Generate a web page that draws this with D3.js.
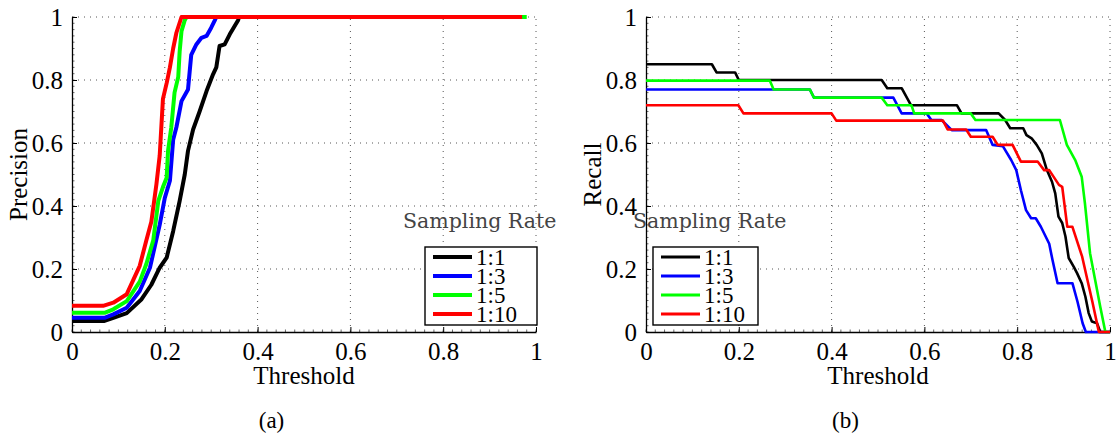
<!DOCTYPE html>
<html><head><meta charset="utf-8">
<script src="https://cdn.jsdelivr.net/npm/d3@7"></script>
<style>html,body{margin:0;padding:0;background:#fff;}svg{display:block;}
.serif{font-family:"Liberation Serif","Times New Roman",Times,serif;}
.dserif{font-family:"DejaVu Serif",serif;}
</style>
</head><body>
<svg id="chart" width="1120" height="439"></svg>
<script>
// ---- data ----
const seriesNames = ["1:1", "1:3", "1:5", "1:10"];
const seriesColors = ["#000000", "#0000ff", "#00ff00", "#ff0000"];
const xTicks = [0, 0.2, 0.4, 0.6, 0.8, 1];
const yTicks = [0, 0.2, 0.4, 0.6, 0.8, 1];
const xTickLabels = ["0", "0.2", "0.4", "0.6", "0.8", "1"];
const yTickLabels = ["0", "0.2", "0.4", "0.6", "0.8", "1"];

// (a) Precision vs threshold
const precision_1_1 = [[0,0.035],[0.07,0.035],[0.089,0.045],[0.118,0.06],[0.15,0.104],[0.171,0.15],[0.189,0.204],[0.204,0.236],[0.218,0.32],[0.232,0.416],[0.243,0.5],[0.25,0.575],[0.261,0.643],[0.275,0.70],[0.29,0.765],[0.304,0.818],[0.311,0.84],[0.318,0.908],[0.329,0.913],[0.34,0.945],[0.358,0.99],[0.36,1],[0.97,1]];
const precision_1_3 = [[0,0.045],[0.07,0.045],[0.089,0.056],[0.118,0.077],[0.146,0.13],[0.168,0.204],[0.189,0.34],[0.2,0.426],[0.211,0.48],[0.218,0.61],[0.225,0.65],[0.236,0.733],[0.25,0.77],[0.257,0.88],[0.268,0.913],[0.279,0.934],[0.29,0.94],[0.3,0.966],[0.308,0.99],[0.311,1],[0.97,1]];
const precision_1_5 = [[0,0.061],[0.07,0.061],[0.089,0.072],[0.118,0.098],[0.146,0.16],[0.16,0.215],[0.175,0.29],[0.186,0.416],[0.196,0.46],[0.204,0.49],[0.207,0.575],[0.214,0.65],[0.221,0.76],[0.229,0.81],[0.232,0.89],[0.236,0.955],[0.243,0.99],[0.247,1],[0.98,1]];
const precision_1_10 = [[0,0.083],[0.067,0.083],[0.089,0.093],[0.118,0.12],[0.146,0.21],[0.16,0.29],[0.171,0.35],[0.182,0.47],[0.189,0.56],[0.196,0.74],[0.204,0.79],[0.211,0.84],[0.218,0.90],[0.225,0.95],[0.236,1],[0.97,1]];

// (b) Recall vs threshold
const recall_1_1 = [[0,0.85],[0.142,0.85],[0.152,0.824],[0.192,0.824],[0.2,0.80],[0.508,0.80],[0.52,0.774],[0.551,0.774],[0.571,0.72],[0.67,0.72],[0.68,0.694],[0.76,0.694],[0.774,0.673],[0.785,0.647],[0.813,0.647],[0.82,0.625],[0.831,0.615],[0.842,0.594],[0.853,0.567],[0.864,0.514],[0.875,0.477],[0.882,0.44],[0.889,0.366],[0.897,0.346],[0.904,0.303],[0.911,0.235],[0.922,0.207],[0.929,0.187],[0.939,0.155],[0.947,0.112],[0.954,0.06],[0.961,0.033],[0.972,0.028],[0.979,0],[1,0]];
const recall_1_3 = [[0,0.77],[0.353,0.77],[0.362,0.744],[0.533,0.744],[0.551,0.694],[0.605,0.694],[0.615,0.673],[0.637,0.673],[0.659,0.641],[0.733,0.641],[0.747,0.594],[0.769,0.59],[0.787,0.546],[0.798,0.514],[0.808,0.45],[0.819,0.387],[0.83,0.361],[0.84,0.361],[0.851,0.334],[0.869,0.28],[0.876,0.229],[0.887,0.155],[0.919,0.155],[0.93,0.096],[0.941,0.028],[0.948,0],[1,0]];
const recall_1_5 = [[0,0.798],[0.267,0.798],[0.275,0.77],[0.353,0.77],[0.362,0.744],[0.508,0.744],[0.52,0.72],[0.572,0.72],[0.578,0.694],[0.70,0.694],[0.71,0.673],[0.892,0.673],[0.907,0.594],[0.925,0.546],[0.939,0.493],[0.946,0.408],[0.957,0.25],[0.968,0.165],[0.979,0.08],[0.99,0],[1,0]];
const recall_1_10 = [[0,0.72],[0.199,0.72],[0.21,0.694],[0.4,0.694],[0.41,0.671],[0.64,0.671],[0.65,0.643],[0.69,0.643],[0.70,0.62],[0.747,0.62],[0.758,0.594],[0.79,0.594],[0.808,0.541],[0.844,0.541],[0.858,0.514],[0.869,0.514],[0.89,0.467],[0.897,0.461],[0.908,0.334],[0.919,0.334],[0.94,0.239],[0.962,0.096],[0.976,0],[1,0]];

// ---- drawing ----
const svg = d3.select("#chart");

function panel(opts) {
  const x = d3.scaleLinear().domain([0, 1]).range([opts.x0, opts.x0 + 464]);
  const y = d3.scaleLinear().domain([0, 1]).range([332, 17]);
  const g = svg.append("g");

  // dotted grid
  const grid = g.append("g");
  xTicks.filter(d => d > 0).forEach(t => {
    grid.append("line").attr("x1", x(t)).attr("x2", x(t)).attr("y1", y(0)).attr("y2", y(1))
      .attr("stroke", "#555").attr("stroke-width", 1).attr("stroke-dasharray", "1,5");
  });
  yTicks.filter(d => d > 0).forEach(t => {
    grid.append("line").attr("x1", x(0)).attr("x2", x(1)).attr("y1", y(t)).attr("y2", y(t))
      .attr("stroke", "#555").attr("stroke-width", 1).attr("stroke-dasharray", "1,5");
  });

  // minor ticks
  const minor = d3.range(0, 1.0001, 0.02);
  minor.forEach(t => {
    g.append("line").attr("x1", x(t)).attr("x2", x(t)).attr("y1", y(0)).attr("y2", y(0) - 2.5)
      .attr("stroke", "#444").attr("stroke-width", 0.8);
    g.append("line").attr("x1", x(0)).attr("x2", x(0) + 2.5).attr("y1", y(t)).attr("y2", y(t))
      .attr("stroke", "#444").attr("stroke-width", 0.8);
  });

  // axes via d3
  const xAxis = d3.axisBottom(x).tickValues(xTicks).tickFormat((d, i) => xTickLabels[i]).tickSizeInner(-5).tickSizeOuter(0).tickPadding(10);
  const yAxis = d3.axisLeft(y).tickValues(yTicks).tickFormat((d, i) => yTickLabels[i]).tickSizeInner(-5).tickSizeOuter(0).tickPadding(9);
  const gx = g.append("g").attr("transform", `translate(0,${y(0)})`).call(xAxis);
  const gy = g.append("g").attr("transform", `translate(${x(0)},0)`).call(yAxis);
  [gx, gy].forEach(a => {
    a.attr("font-family", null).attr("font-size", null);
    a.select(".domain").attr("stroke", "#000").attr("stroke-width", 1.3);
    a.selectAll(".tick line").attr("stroke", "#000").attr("stroke-width", 1);
    a.selectAll(".tick text").attr("class", "serif").style("font-size", "25px").attr("fill", "#000");
  });
  gx.selectAll(".tick text").attr("dy", "0.71em");
  gy.selectAll(".tick text").attr("dy", "0.33em");

  // lines
  const line = d3.line().x(d => x(d[0])).y(d => y(d[1]));
  opts.data.forEach((s, i) => {
    g.append("path").datum(s).attr("d", line).attr("fill", "none")
      .attr("stroke", seriesColors[i]).attr("stroke-width", opts.lw).attr("stroke-linejoin", "round");
  });

  // axis titles
  g.append("text").attr("class", "serif").attr("x", x(0.5)).attr("y", 384).attr("text-anchor", "middle")
    .style("font-size", "25px").text("Threshold");
  g.append("text").attr("class", "serif").attr("transform", `translate(${opts.ylabX},${y(0.5)}) rotate(-90)`).attr("text-anchor", "middle")
    .style("font-size", "25px").text(opts.ylabel);

  // caption
  g.append("text").attr("class", "serif").attr("x", x(0.43)).attr("y", 428).attr("text-anchor", "middle")
    .style("font-size", "23px").text(opts.caption);

  // legend title
  g.append("text").attr("class", "dserif").attr("x", opts.titleX).attr("y", 228)
    .style("font-size", "20.5px").attr("fill", "#444").text("Sampling Rate");

  // legend box
  const lg = g.append("g");
  lg.append("rect").attr("x", opts.legX).attr("y", 247).attr("width", opts.legW).attr("height", 78)
    .attr("fill", "#fff").attr("stroke", "#000").attr("stroke-width", 1.4);
  seriesNames.forEach((n, i) => {
    const yy = 257 + i * 19;
    lg.append("line").attr("x1", opts.legX + 8).attr("x2", opts.legX + 47).attr("y1", yy).attr("y2", yy)
      .attr("stroke", seriesColors[i]).attr("stroke-width", opts.legLw);
    lg.append("text").attr("class", "serif").attr("x", opts.legX + 51).attr("y", yy).attr("dy", "0.34em")
      .style("font-size", "23px").text(n);
  });
}

panel({x0: 72, data: [precision_1_1, precision_1_3, precision_1_5, precision_1_10], lw: 4, ylabel: "Precision", ylabX: 27,
  caption: "(a)", titleX: 403, legX: 425, legW: 112, legLw: 4});
panel({x0: 646, data: [recall_1_1, recall_1_3, recall_1_5, recall_1_10], lw: 2.6, ylabel: "Recall", ylabX: 601,
  caption: "(b)", titleX: 633, legX: 653, legW: 105, legLw: 2.8});
</script>
</body></html>
